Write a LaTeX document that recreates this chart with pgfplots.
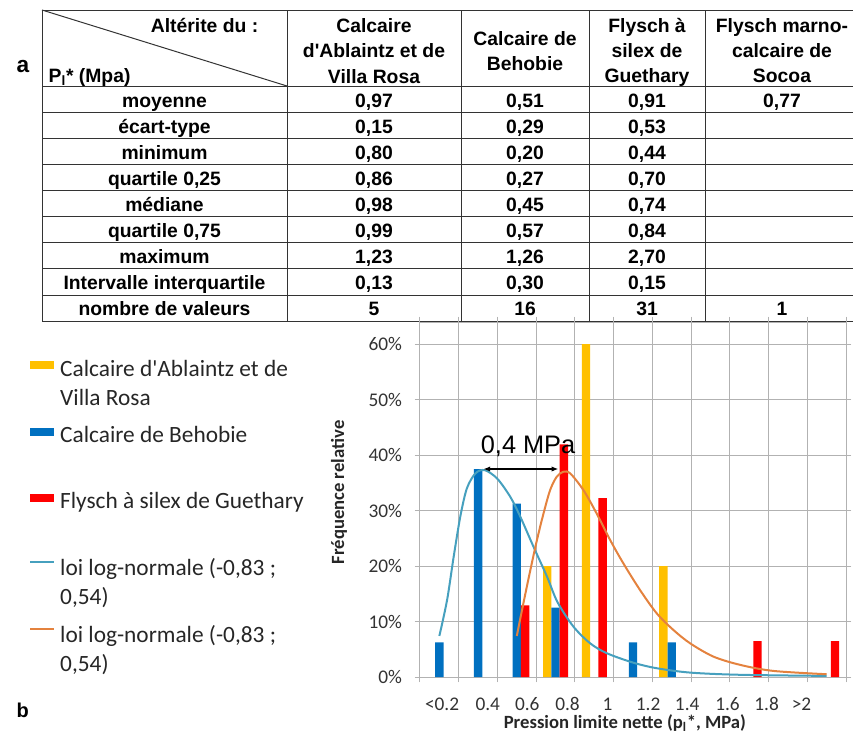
\documentclass[border=0pt]{standalone}
\usepackage{pgfplots}
\pgfplotsset{compat=1.18}
\usepackage{pgfplotstable}
\usepackage{fontspec}
\setmainfont{Carlito}
\newfontfamily\arial{Liberation Sans}
\usetikzlibrary{arrows.meta}

\definecolor{cYel}{RGB}{255,192,0}
\definecolor{cBlu}{RGB}{0,112,192}
\definecolor{cRed}{RGB}{255,0,0}
\definecolor{cTeal}{RGB}{70,160,190}
\definecolor{cOra}{RGB}{228,130,62}
\definecolor{cGrid}{RGB}{178,178,178}

% bins: 0=<0.2, 1=0.4, ..., 9=>2, 10=(beyond)
\pgfplotstableread{
x y
3 20
4 60
6 20
}\ablaintz
\pgfplotstableread{
x y
0 6.25
1 37.5
2 31.25
3 12.5
5 6.25
6 6.25
}\behobie
\pgfplotstableread{
x y
2 12.90
3 41.94
4 32.26
8 6.45
10 6.45
}\guethary
\pgfplotstableread{
x y
0.00 7.4
0.20 13.9
0.37 21.7
0.54 28.9
0.71 34.0
0.93 36.7
1.17 37.3
1.49 35.8
1.83 32.5
2.09 28.9
2.43 23.5
2.78 18.1
3.05 13.5
3.46 9.1
3.89 6.1
4.32 4.3
5.00 2.6
5.60 1.6
6.47 0.8
7.76 0.4
10.0 0.2
}\lnblue
\pgfplotstableread{
x y
2.00 7.4
2.17 13.3
2.35 19.3
2.52 24.7
2.69 29.5
2.86 33.7
3.03 36.1
3.20 37.0
3.38 36.7
3.72 33.7
4.06 29.5
4.41 24.7
4.75 20.5
5.18 15.7
5.61 11.5
6.04 8.5
6.47 6.1
7.07 3.7
7.76 2.2
8.62 1.1
10.0 0.5
}\lnorange

\newcommand\trow[6]{%
  \node[anchor=base] at (164.5,#1) {#2};
  \node[anchor=base] at (374,#1) {#3};
  \node[anchor=base] at (525,#1) {#4};
  \node[anchor=base] at (647,#1) {#5};
  \node[anchor=base] at (782,#1) {#6};}

\begin{document}
\begin{tikzpicture}
\begin{scope}[x=0.75pt,y=-0.75pt]
  % table grid
  \begin{scope}[line width=0.75pt, draw=black!80]
    \foreach \yy in {10,86,112,138,164,190,216,242,268,295,321}
      \draw (42,\yy) -- (853,\yy);
    \foreach \xx in {42,287,461,589,705}
      \draw (\xx,10) -- (\xx,321);
    \draw (42,10) -- (287,86);
  \end{scope}
  \begin{scope}[font=\arial\bfseries\fontsize{14.5}{18}\selectfont, text=black]
    \node[anchor=base east] at (263,32) {Altérite du :};
    \node[anchor=base west] at (44,82) {P\textsubscript{l}* (Mpa)};
    \node[anchor=base] at (374,32) {Calcaire};
    \node[anchor=base] at (374,57) {d\textquotesingle Ablaintz et de};
    \node[anchor=base] at (374,83) {Villa Rosa};
    \node[anchor=base] at (525,45) {Calcaire de};
    \node[anchor=base] at (525,70) {Behobie};
    \node[anchor=base] at (647,32) {Flysch à};
    \node[anchor=base] at (647,57) {silex de};
    \node[anchor=base] at (647,82) {Guethary};
    \node[anchor=base] at (782,32) {Flysch marno-};
    \node[anchor=base] at (782,57) {calcaire de};
    \node[anchor=base] at (782,82) {Socoa};
    \trow{107}{moyenne}{0,97}{0,51}{0,91}{0,77}
    \trow{133}{écart-type}{0,15}{0,29}{0,53}{}
    \trow{159}{minimum}{0,80}{0,20}{0,44}{}
    \trow{185}{quartile 0,25}{0,86}{0,27}{0,70}{}
    \trow{211}{médiane}{0,98}{0,45}{0,74}{}
    \trow{237}{quartile 0,75}{0,99}{0,57}{0,84}{}
    \trow{263}{maximum}{1,23}{1,26}{2,70}{}
    \trow{289}{Intervalle interquartile}{0,13}{0,30}{0,15}{}
    \trow{315}{nombre de valeurs}{5}{16}{31}{1}
  \end{scope}
  \node[anchor=base west, font=\arial\bfseries\fontsize{17}{18}\selectfont] at (12,72) {a};
  \node[anchor=base west, font=\arial\bfseries\fontsize{15}{18}\selectfont] at (12,717) {b};
\end{scope}

\begin{axis}[
  at={(315pt,-507.75pt)}, anchor=south west,
  scale only axis, width=319.5pt, height=266.25pt,
  xmin=-0.5, xmax=10.5, ymin=0, ymax=64,
  xtick={-0.5,0.5,...,10.5},
  xticklabels={,,,,,,,,,,,,},
  xmajorgrids=true,
  extra x ticks={0.07,1.25,2.27,3.31,4.34,5.39,6.40,7.44,8.45,9.35},
  extra x tick labels={<0.2,0.4,0.6,0.8,1,1.2,1.4,1.6,1.8,>2},
  extra x tick style={grid=none, major tick length=0pt},
  ytick={0,10,...,60},
  yticklabels={0\%,10\%,20\%,30\%,40\%,50\%,60\%},
  ymajorgrids=true,
  grid style={cGrid, line width=0.75pt},
  axis line style={cGrid, line width=0.75pt},
  tick style={cGrid, line width=0.75pt},
  tick align=outside,
  major tick length=4pt,
  /pgf/number format/assume math mode=true,
  tick label style={font=\fontsize{14.5}{16}\selectfont, text=black!80},
  xticklabel style={yshift=-12pt},
  yticklabel style={xshift=-6pt},
  xlabel={Pression limite nette (p\textsubscript{l}*, MPa)},
  ylabel={Fréquence relative},
  label style={font=\bfseries\fontsize{14}{16}\selectfont, text=black!85},
  xlabel style={at={(axis description cs:0.481,-0.13)}, anchor=center},
  ylabel style={at={(axis description cs:-0.19,0.52)}, anchor=center},
  legend style={at={(axis description cs:-0.918,0.893)}, anchor=north west,
    draw=none, fill=none, font=\fontsize{17.5}{21.75}\selectfont, text=black!85,
    column sep=3.75pt, row sep=36pt, inner sep=0pt, nodes={inner sep=0pt}},
  legend cell align=left,
]
\addplot[ybar, bar width=0.215, bar shift=-0.215, fill=cYel, draw=none,
  legend image code/.code={\fill[cYel] (0pt,0pt) rectangle (18pt,6pt);}]
  table[x=x,y=y] {\ablaintz};
\addlegendentry{\parbox[t]{230pt}{Calcaire d\textquotesingle Ablaintz et de\\Villa Rosa}}
\addplot[ybar, bar width=0.215, bar shift=0, fill=cBlu, draw=none,
  legend image code/.code={\fill[cBlu] (0pt,0pt) rectangle (18pt,6pt);}]
  table[x=x,y=y] {\behobie};
\addlegendentry{\parbox[t]{230pt}{Calcaire de Behobie}}
\addplot[ybar, bar width=0.215, bar shift=0.215, fill=cRed, draw=none,
  legend image code/.code={\fill[cRed] (0pt,0pt) rectangle (18pt,6pt);}]
  table[x=x,y=y] {\guethary};
\addlegendentry{\parbox[t]{230pt}{Flysch à silex de Guethary}}
\addplot[smooth, cTeal, line width=1.5pt, no marks,
  legend image code/.code={\draw[cTeal, line width=1.5pt] (0pt,4.5pt) -- (18pt,4.5pt);}]
  table[x=x,y=y] {\lnblue};
\addlegendentry{\parbox[t]{230pt}{loi log-normale (-0,83 ;\\0,54)}}
\addplot[smooth, cOra, line width=1.5pt, no marks,
  legend image code/.code={\draw[cOra, line width=1.5pt] (0pt,4.5pt) -- (18pt,4.5pt);}]
  table[x=x,y=y] {\lnorange};
\addlegendentry{\parbox[t]{230pt}{loi log-normale (-0,83 ;\\0,54)}}
\draw[{Latex[length=5pt,width=4pt]}-{Latex[length=5pt,width=4pt]}, line width=0.9pt, black]
  (axis cs:1.14,37.5) -- (axis cs:3.07,37.5);
\node[anchor=base, font=\arial\fontsize{19}{20}\selectfont, text=black] at (axis cs:2.29,40.3) {0,4 MPa};
\end{axis}
\pgfresetboundingbox
\useasboundingbox (0,0) rectangle (639.75pt,-549.75pt);
\end{tikzpicture}
\end{document}
